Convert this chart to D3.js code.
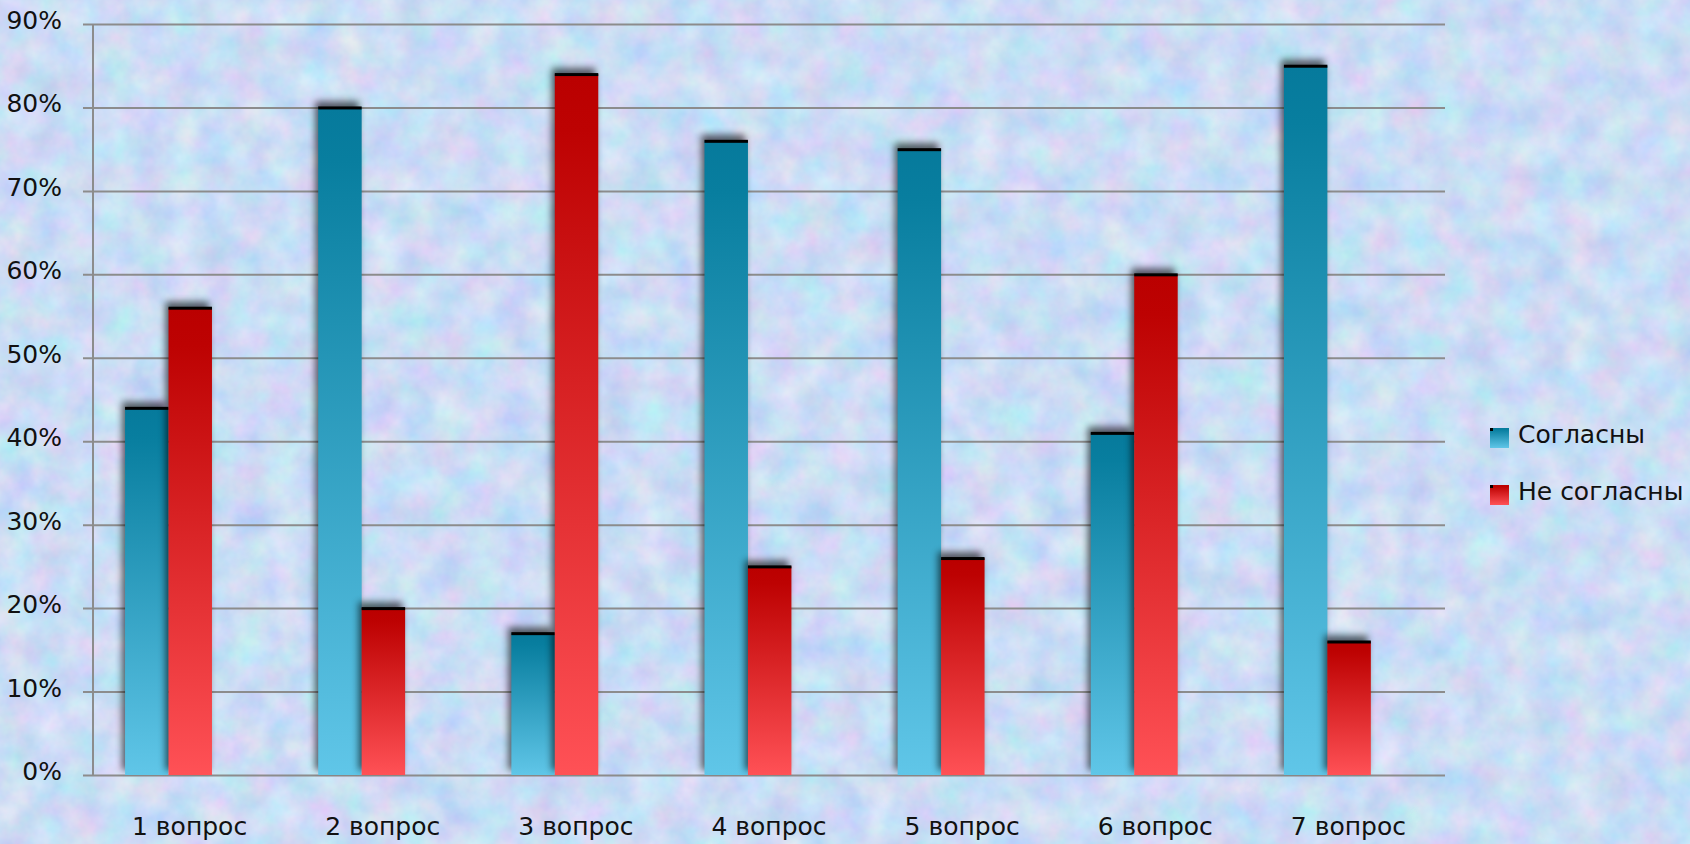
<!DOCTYPE html>
<html>
<head>
<meta charset="utf-8">
<script src="https://cdn.jsdelivr.net/npm/d3@7"></script>
<style>
  html, body { margin: 0; padding: 0; background: #cfdaf5; }
  svg { display: block; font-family: "DejaVu Sans", sans-serif; }
</style>
</head>
<body>
<svg width="1690" height="844"></svg>
<script>
const categories = ["1 вопрос", "2 вопрос", "3 вопрос", "4 вопрос", "5 вопрос", "6 вопрос", "7 вопрос"];
const seriesNames = ["Согласны", "Не согласны"];
const agree = [0.44, 0.80, 0.17, 0.76, 0.75, 0.41, 0.85];
const disagree = [0.56, 0.20, 0.84, 0.25, 0.26, 0.60, 0.16];
const yTicks = [0, 0.1, 0.2, 0.3, 0.4, 0.5, 0.6, 0.7, 0.8, 0.9];

const svg = d3.select("svg"),
      margin = {top: 24, left: 93},
      width = 1352,
      height = 751;

const defs = svg.append("defs");

// mottled paper-like background
const tex = defs.append("filter").attr("id", "tex")
  .attr("color-interpolation-filters", "sRGB")
  .attr("x", 0).attr("y", 0).attr("width", "100%").attr("height", "100%");
tex.append("feTurbulence")
  .attr("type", "fractalNoise")
  .attr("baseFrequency", 0.03)
  .attr("numOctaves", 4)
  .attr("seed", 7);
tex.append("feColorMatrix")
  .attr("type", "matrix")
  .attr("values", "0.28 0 0 0 0.655  0 0.18 0 0 0.775  0 0 0.08 0 0.92  0 0 0 0 1");

svg.append("rect")
  .attr("width", 1690).attr("height", 844)
  .attr("filter", "url(#tex)");

// shadow that falls up and left of each bar
const shadow = defs.append("filter").attr("id", "shadow")
  .attr("color-interpolation-filters", "sRGB")
  .attr("x", "-40%").attr("y", "-10%").attr("width", "180%").attr("height", "120%");
shadow.append("feGaussianBlur").attr("in", "SourceAlpha").attr("stdDeviation", 3.5).attr("result", "b");
shadow.append("feOffset").attr("in", "b").attr("dx", -3).attr("dy", -5).attr("result", "o");
shadow.append("feComponentTransfer").attr("in", "o").attr("result", "s")
  .append("feFuncA").attr("type", "linear").attr("slope", 0.6);
const merge = shadow.append("feMerge");
merge.append("feMergeNode").attr("in", "s");
merge.append("feMergeNode").attr("in", "SourceGraphic");

const gradStops = {
  "Согласны": [["0%", "#067a9c"], ["8%", "#087e9f"], ["100%", "#60c6e8"]],
  "Не согласны": [["0%", "#ba0000"], ["8%", "#bd0202"], ["100%", "#ff5156"]]
};
seriesNames.forEach((s, i) => {
  const lg = defs.append("linearGradient").attr("id", "grad" + i)
    .attr("x1", 0).attr("y1", 0).attr("x2", 0).attr("y2", 1);
  gradStops[s].forEach(st => lg.append("stop").attr("offset", st[0]).attr("stop-color", st[1]));
});

const g = svg.append("g").attr("transform", `translate(${margin.left},${margin.top})`);

const x0 = d3.scaleBand()
  .domain(categories)
  .range([0, width]);

const x1 = d3.scaleBand()
  .domain(seriesNames)
  .range([x0.bandwidth() * 0.166, x0.bandwidth() * 0.616]);

const y = d3.scaleLinear()
  .domain([0, 0.9])
  .range([height, 0]);

// grid lines and ticks
g.append("g")
  .call(d3.axisLeft(y).tickValues(yTicks).tickSize(-width).tickFormat(""))
  .call(a => a.select(".domain").remove())
  .selectAll(".tick line")
  .attr("x1", -10)
  .attr("stroke", "#8c8c8c")
  .attr("stroke-width", 2);

g.append("line")
  .attr("x1", 0).attr("x2", 0)
  .attr("y1", y(0.9)).attr("y2", y(0))
  .attr("stroke", "#8c8c8c")
  .attr("stroke-width", 2);

g.append("g")
  .selectAll("text")
  .data(yTicks)
  .join("text")
  .attr("x", -31)
  .attr("y", d => y(d) + 5)
  .attr("text-anchor", "end")
  .style("font-size", "25px")
  .attr("fill", "#111")
  .text(d3.format(".0%"));

// category labels
g.append("g")
  .selectAll("text")
  .data(categories)
  .join("text")
  .attr("x", d => x0(d) + x0.bandwidth() / 2)
  .attr("y", height + 60)
  .attr("text-anchor", "middle")
  .style("font-size", "25px")
  .attr("fill", "#111")
  .text(d => d);

const data = categories.map((c, i) => ({
  cat: c,
  vals: [
    {key: seriesNames[0], idx: 0, value: agree[i]},
    {key: seriesNames[1], idx: 1, value: disagree[i]}
  ]
}));

const groups = g.selectAll(".grp")
  .data(data)
  .join("g")
  .attr("class", "grp")
  .attr("transform", d => `translate(${x0(d.cat)},0)`);

const bars = groups.selectAll("g.bar")
  .data(d => d.vals)
  .join("g")
  .attr("class", "bar")
  .attr("filter", "url(#shadow)");

bars.append("rect")
  .attr("x", d => x1(d.key))
  .attr("y", d => y(d.value))
  .attr("width", x1.bandwidth())
  .attr("height", d => height - y(d.value))
  .attr("fill", d => `url(#grad${d.idx})`);

bars.append("rect")
  .attr("x", d => x1(d.key))
  .attr("y", d => y(d.value) - 1)
  .attr("width", x1.bandwidth())
  .attr("height", 3)
  .attr("fill", "#000");

// legend
const legend = svg.append("g").attr("transform", "translate(1490,428)");
seriesNames.forEach((key, i) => {
  const row = legend.append("g").attr("transform", `translate(0,${i * 57})`);
  row.append("rect")
    .attr("width", 19).attr("height", 20)
    .attr("fill", `url(#grad${i})`);
  row.append("rect")
    .attr("width", 3).attr("height", 3)
    .attr("fill", "#000");
  row.append("text")
    .attr("x", 28)
    .attr("y", 15)
    .style("font-size", "25px")
    .attr("fill", "#111")
    .text(key);
});
</script>
</body>
</html>
